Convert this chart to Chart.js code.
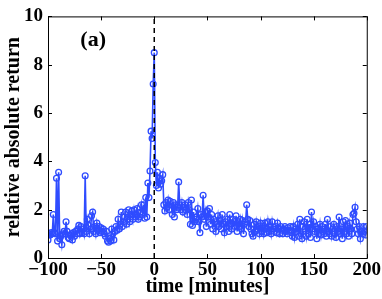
<!DOCTYPE html>
<html>
<head>
<meta charset="utf-8">
<script src="https://cdn.jsdelivr.net/npm/chart.js@4/dist/chart.umd.min.js"></script>
<style>
  html, body { margin: 0; padding: 0; background: #fff; }
  #wrap { width: 382px; height: 299px; }
</style>
</head>
<body>
<div id="wrap"><canvas id="chart" width="382" height="299"></canvas></div>
<script>
// relative absolute return, one value per minute from -100 to 200
const returns = [
  0.75, 1.0, 0.95, 1.05, 1.0, 1.8, 1.05, 1.0, 3.3, 0.7,
  3.55, 0.8, 0.9, 0.55, 1.0, 1.1, 1.0, 1.5, 1.1, 0.85,
  0.8, 0.95, 1.0, 0.75, 1.05, 0.9, 1.1, 1.0, 1.2, 1.35,
  1.0, 1.3, 1.05, 1.2, 1.0, 3.4, 1.1, 1.6, 1.35, 1.0,
  1.2, 1.75, 1.9, 1.1, 1.3, 1.0, 1.45, 1.2, 1.3, 1.05,
  1.25, 1.1, 1.2, 1.0, 0.9, 1.1, 0.7, 0.65, 0.8, 0.7,
  1.2, 1.0, 0.75, 1.1, 1.3, 1.15, 1.6, 1.2, 1.4, 1.9,
  1.3, 1.5, 1.7, 1.9, 1.4, 1.6, 2.0, 1.5, 1.8, 1.95,
  1.6, 2.0, 1.7, 1.8, 2.05, 1.6, 1.7, 1.9, 2.2, 1.8,
  2.2, 1.65, 2.5, 1.7, 3.1, 2.5, 3.6, 5.25, 4.95, 7.2,
  8.5,
  3.95, 3.0, 3.55, 2.9, 3.3, 3.05, 3.2, 3.45, 2.2, 1.95,
  2.3, 2.1, 2.4, 2.0, 2.35, 2.2, 1.8, 2.3, 1.7, 2.2,
  2.0, 2.1, 3.15, 2.2, 2.0, 2.3, 1.9, 2.1, 2.2, 2.0,
  1.8, 2.3, 2.0, 1.4, 2.4, 1.35, 1.9, 1.5, 1.6, 1.7,
  2.05, 1.5, 1.05, 1.8, 1.7, 2.6, 1.6, 1.9, 1.3, 1.95,
  1.7, 2.05, 1.4, 1.8, 1.2, 1.6, 1.5, 1.1, 1.4, 1.75,
  1.3, 1.55, 1.2, 1.8, 1.4, 1.05, 1.5, 1.3, 1.6, 1.1,
  1.8, 1.4, 1.2, 1.6, 1.5, 1.3, 1.75, 1.1, 1.5, 1.3,
  1.6, 1.2, 1.55, 1.0, 1.4, 1.5, 2.2, 1.6, 1.3, 1.55,
  1.2, 1.0, 0.9, 1.4, 1.1, 1.5, 1.2, 1.3, 1.0, 1.45,
  1.1, 1.3, 1.0, 1.45, 1.2, 1.05, 1.5, 1.1, 1.3, 1.0,
  1.5, 1.2, 1.1, 1.3, 1.05, 1.45, 1.2, 1.0, 1.3, 1.15,
  1.0, 1.2, 1.3, 1.1, 1.0, 1.25, 1.15, 1.3, 1.05, 0.9,
  1.3, 0.85, 1.2, 1.1, 1.4, 0.9, 1.6, 1.0, 0.8, 1.3,
  1.5, 1.2, 0.9, 1.6, 1.0, 1.4, 0.85, 1.9, 1.2, 1.5,
  1.1, 1.3, 0.8, 1.2, 1.0, 1.4, 0.95, 1.3, 1.1, 1.0,
  1.4, 0.9, 1.6, 1.1, 1.0, 1.3, 0.9, 1.2, 1.4, 1.0,
  0.85, 1.3, 1.1, 1.7, 1.0, 1.2, 0.8, 1.5, 1.1, 1.55,
  1.0, 1.3, 0.9, 1.45, 1.2, 1.0, 1.8, 1.85, 2.1, 1.5,
  1.2, 1.0, 1.3, 0.8, 1.1, 1.0, 1.3, 1.1, 0.95, 1.3
];
const startMinute = -100;
const minutes = returns.map((v, i) => startMinute + i);

const xTicks = [-100, -50, 0, 50, 100, 150, 200];
const yTicks = [0, 2, 4, 6, 8, 10];
const eventTime = 0;
const panelLabel = '(a)';

const serif = '"Liberation Serif", "DejaVu Serif", serif';
const blue = '#2f4cff';

const points = minutes.map((m, i) => ({ x: m, y: returns[i] }));

// box, inward ticks and panel label, MATLAB style
const boxPlugin = {
  id: 'box',
  afterDraw(chart) {
    const ctx = chart.ctx;
    const a = chart.chartArea;
    const xs = chart.scales.x, ys = chart.scales.y;
    ctx.save();
    ctx.strokeStyle = '#000';
    ctx.lineWidth = 1;
    ctx.strokeRect(a.left + 0.5, a.top + 0.5, a.right - a.left, a.bottom - a.top);
    ctx.beginPath();
    xTicks.forEach(t => {
      const px = Math.round(xs.getPixelForValue(t)) + 0.5;
      ctx.moveTo(px, a.bottom); ctx.lineTo(px, a.bottom - 4);
      ctx.moveTo(px, a.top); ctx.lineTo(px, a.top + 4);
    });
    yTicks.forEach(t => {
      const py = Math.round(ys.getPixelForValue(t)) + 0.5;
      ctx.moveTo(a.left, py); ctx.lineTo(a.left + 4, py);
      ctx.moveTo(a.right, py); ctx.lineTo(a.right - 4, py);
    });
    ctx.stroke();
    ctx.fillStyle = '#000';
    ctx.font = 'bold 22px ' + serif;
    ctx.textAlign = 'center';
    ctx.textBaseline = 'middle';
    ctx.fillText(panelLabel, xs.getPixelForValue(-57.5), ys.getPixelForValue(9.0));
    ctx.restore();
  }
};

new Chart(document.getElementById('chart'), {
  type: 'scatter',
  data: {
    datasets: [
      {
        data: points,
        showLine: true,
        borderColor: blue,
        borderWidth: 1.6,
        pointRadius: 2.9,
        pointBorderWidth: 1.3,
        pointBorderColor: blue,
        pointBackgroundColor: 'rgba(255,255,255,0)',
        order: 2
      },
      {
        data: [{ x: eventTime, y: 0 }, { x: eventTime, y: 10 }],
        showLine: true,
        borderColor: '#000',
        borderWidth: 1.5,
        borderDash: [5, 4],
        pointRadius: 0,
        order: 1
      }
    ]
  },
  options: {
    responsive: false,
    animation: false,
    events: [],
    layout: { padding: { top: 12, right: 15, left: 0, bottom: 0 } },
    plugins: { legend: { display: false }, tooltip: { enabled: false } },
    scales: {
      x: {
        type: 'linear',
        min: -100, max: 200,
        afterFit: s => { s.height = 41; },
        afterBuildTicks: s => { s.ticks = xTicks.map(v => ({ value: v })); },
        grid: { display: false, drawTicks: false, tickLength: 0 },
        border: { display: false },
        ticks: {
          color: '#000',
          padding: 1,
          maxRotation: 0,
          font: { family: serif, size: 19, weight: 'bold' },
          callback: v => (v < 0 ? '\u2212' + Math.abs(v) : String(v))
        },
        title: {
          display: true,
          text: 'time [minutes]',
          color: '#000',
          padding: 0,
          font: { family: serif, size: 20, weight: 'bold' }
        }
      },
      y: {
        min: 0, max: 10,
        afterFit: s => { s.width = 48; },
        afterBuildTicks: s => { s.ticks = yTicks.map(v => ({ value: v })); },
        grid: { display: false, drawTicks: false, tickLength: 0 },
        border: { display: false },
        ticks: {
          color: '#000',
          padding: 5,
          font: { family: serif, size: 19, weight: 'bold' }
        },
        title: {
          display: true,
          text: 'relative absolute return',
          color: '#000',
          padding: 2,
          font: { family: serif, size: 20, weight: 'bold' }
        }
      }
    }
  },
  plugins: [boxPlugin]
});
</script>
</body>
</html>
